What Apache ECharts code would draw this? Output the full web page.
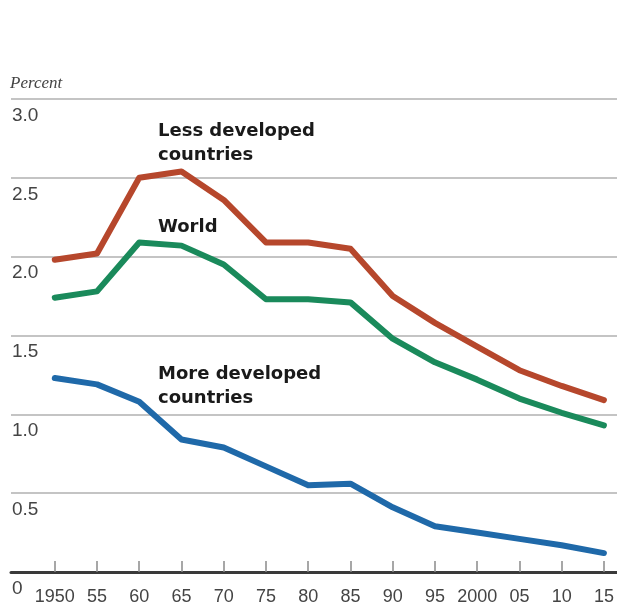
<!DOCTYPE html>
<html>
<head>
<meta charset="utf-8">
<script src="https://cdn.jsdelivr.net/npm/echarts@6/dist/echarts.min.js"></script>
<style>html,body{margin:0;padding:0;background:#fff;}#c{width:617px;height:607px;}</style>
</head>
<body>
<div id="c"></div>
<script>
const years = [1950,1955,1960,1965,1970,1975,1980,1985,1990,1995,2000,2005,2010,2015];
const tickLabels = ['1950','55','60','65','70','75','80','85','90','95','2000','05','10','15'];
const lessDeveloped = [1.98,2.02,2.50,2.54,2.36,2.09,2.09,2.05,1.75,1.58,1.43,1.28,1.18,1.09];
const world = [1.74,1.78,2.09,2.07,1.95,1.73,1.73,1.71,1.48,1.33,1.22,1.10,1.01,0.93];
const moreDeveloped = [1.23,1.19,1.08,0.84,0.79,0.67,0.55,0.56,0.41,0.29,0.25,0.21,0.17,0.12];

const pairs = arr => years.map((y,i)=>[y,arr[i]]);
const chart = echarts.init(document.getElementById('c'));
const lineStyle = c => ({color:c,width:6,cap:'round',join:'round'});
const noteFont = 'bold 18px "DejaVu Sans", sans-serif';
chart.setOption({
  animation:false,
  grid:{left:11,right:-3,top:99,bottom:35},
  xAxis:{
    type:'value', min:1944.82, max:2016.55,
    splitLine:{show:false},
    axisLine:{show:true,lineStyle:{color:'#3a3a3a',width:3}},
    axisTick:{show:true,inside:true,length:11,customValues:years,lineStyle:{color:'#8a8a8a',width:1.5}},
    axisLabel:{show:true,customValues:years,margin:16,color:'#444',fontSize:18,fontFamily:'Liberation Sans, Arial, sans-serif',
      formatter:v=>{const i=years.indexOf(Math.round(v));return i>=0?tickLabels[i]:'';}}
  },
  yAxis:{
    type:'value', min:0, max:3, interval:0.5,
    axisLine:{show:false}, axisTick:{show:false},
    splitLine:{show:true,lineStyle:{color:'#c4c4c4',width:2}},
    axisLabel:{inside:true,align:'left',verticalAlign:'top',margin:1,padding:[7,0,0,0],color:'#444',fontSize:19,fontFamily:'Liberation Sans, Arial, sans-serif',
      formatter:v=>v===0?'0':v.toFixed(1)}
  },
  series:[
    {name:'Less developed countries',type:'line',data:pairs(lessDeveloped),symbol:'none',lineStyle:lineStyle('#b6472c'),z:3},
    {name:'World',type:'line',data:pairs(world),symbol:'none',lineStyle:lineStyle('#1a8a5b'),z:3},
    {name:'More developed countries',type:'line',data:pairs(moreDeveloped),symbol:'none',lineStyle:lineStyle('#1f69a9'),z:3}
  ],
  graphic:[
    {type:'text',left:10,top:75,style:{text:'Percent',font:'italic 17px "Liberation Serif", serif',fill:'#444'}},
    {type:'text',left:158,top:119,style:{text:'Less developed\ncountries',font:noteFont,lineHeight:24,fill:'#1a1a1a'}},
    {type:'text',left:158,top:218,style:{text:'World',font:noteFont,fill:'#1a1a1a'}},
    {type:'text',left:158,top:362,style:{text:'More developed\ncountries',font:noteFont,lineHeight:24,fill:'#1a1a1a'}}
  ]
});
</script>
</body>
</html>
